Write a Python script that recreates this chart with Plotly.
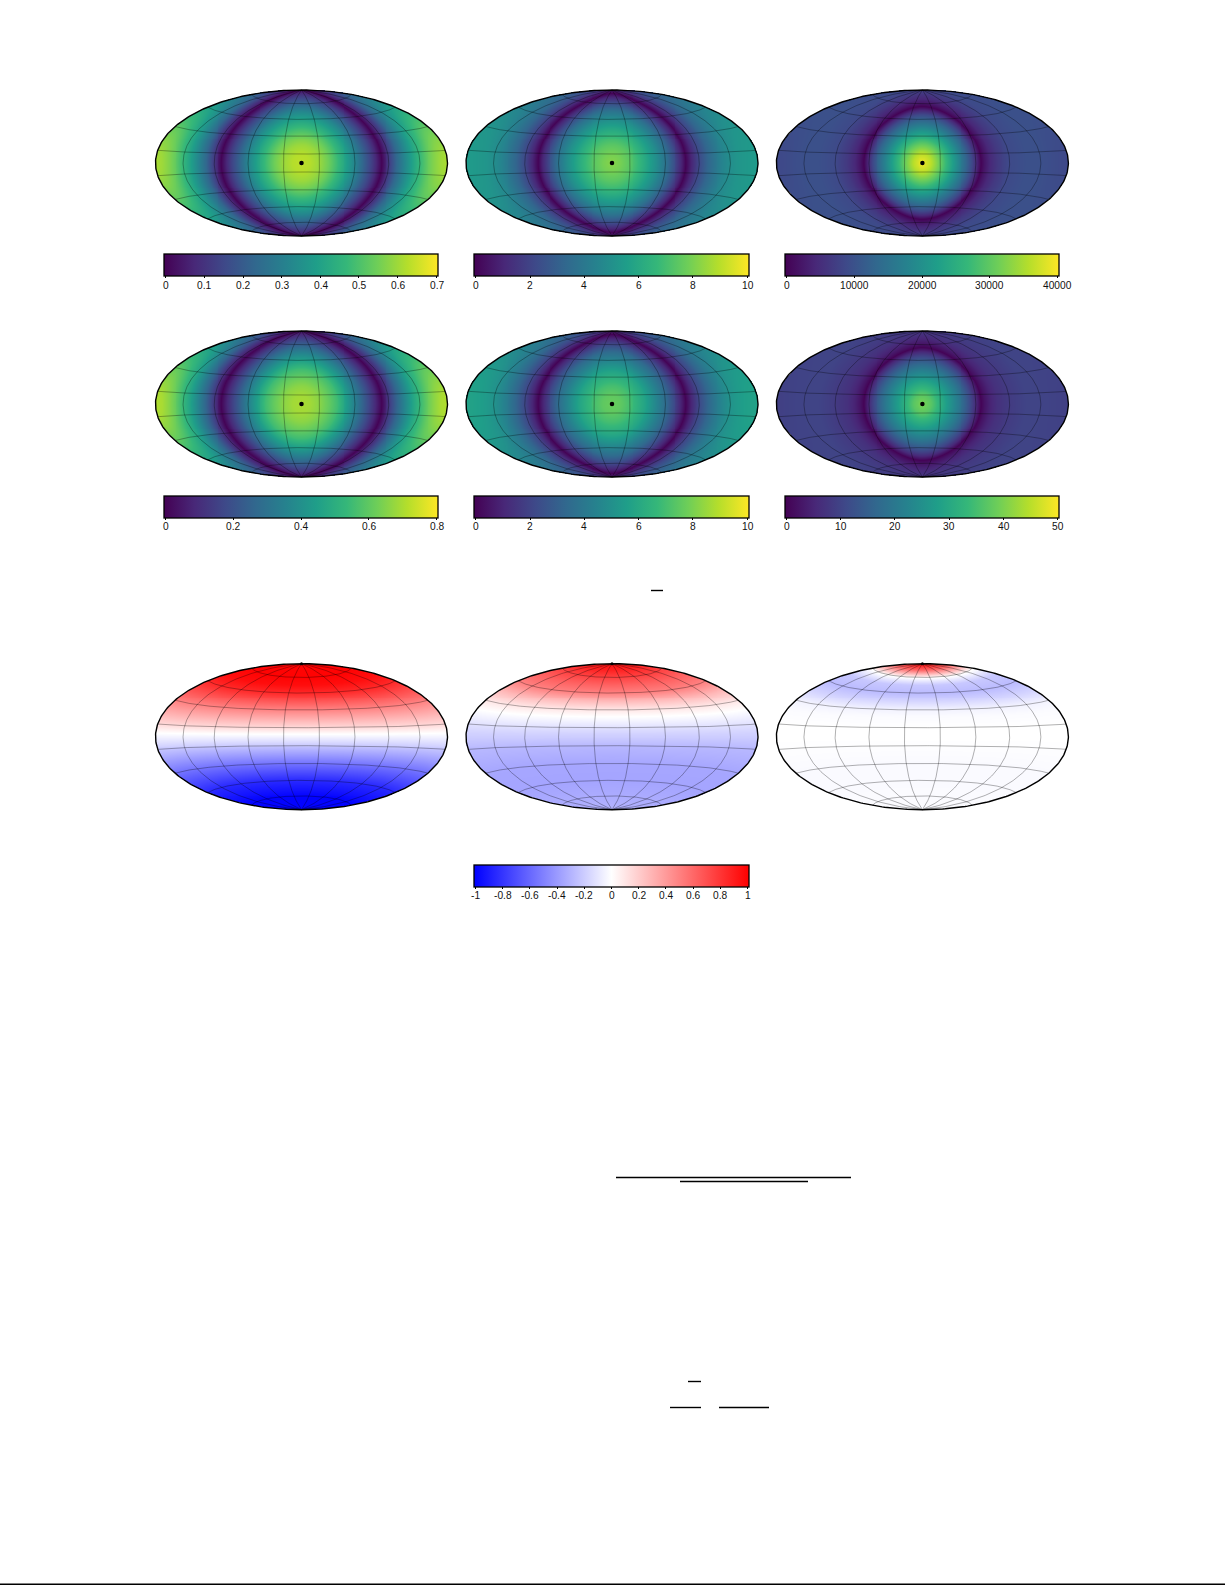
import numpy as np
import plotly.graph_objects as go

W, H = 1225, 1585

# ---- values ----
# angular distance from map centre (deg) and field value there
psi_a = [0, 10, 20, 30, 40, 50, 60, 70, 80, 91, 100, 110, 120, 130, 140, 150, 160, 170, 180]
map1 = [0.635, 0.625, 0.595, 0.545, 0.475, 0.40, 0.32, 0.22, 0.125, 0.0, 0.11, 0.23, 0.32, 0.40, 0.47, 0.53, 0.57, 0.60, 0.615]
map4 = [0.70, 0.69, 0.66, 0.61, 0.55, 0.45, 0.35, 0.24, 0.13, 0.0, 0.12, 0.25, 0.36, 0.46, 0.54, 0.61, 0.66, 0.70, 0.71]
psi_b = [0, 10, 20, 30, 37, 50, 60, 70, 80, 84, 90, 100, 110, 120, 130, 140, 150, 160, 170, 180]
map2 = [8.2, 7.9, 7.4, 6.7, 6.1, 4.9, 3.8, 2.4, 0.8, 0.0, 0.9, 2.2, 3.2, 3.9, 4.5, 4.9, 5.2, 5.3, 5.4, 5.4]
map5 = [7.7, 7.5, 7.0, 6.3, 5.8, 4.5, 3.5, 2.2, 0.7, 0.0, 0.9, 2.2, 3.2, 4.0, 4.6, 5.1, 5.4, 5.6, 5.7, 5.7]
psi_c = [0, 10, 20, 30, 40, 50, 56, 60, 64, 66, 70, 76, 85, 100, 120, 140, 160, 180]
map3 = [39500, 36000, 30500, 24500, 18500, 12500, 8500, 5200, 1800, 0, 2000, 4200, 6500, 8800, 9700, 9700, 9100, 8500]
map6 = [40, 37, 31.5, 26, 20.5, 14, 9.5, 6, 2.2, 0, 2.2, 4.5, 6.8, 8.5, 10, 10, 9.7, 9.2]

# latitude (deg) and field value there
lat_p = [-90, -70, -50, -30, -10, 0, 3, 10, 22, 30, 40, 50, 60, 70, 80, 90]
map7 = [-1.0, -1.0, -0.85, -0.55, -0.22, -0.05, 0.0, 0.15, 0.36, 0.5, 0.68, 0.85, 0.96, 1.0, 1.0, 1.0]
map8 = [-0.3, -0.33, -0.36, -0.35, -0.28, -0.2, -0.18, -0.12, 0.0, 0.1, 0.28, 0.5, 0.62, 0.75, 0.88, 0.95]
map9 = [-0.015, -0.015, -0.02, -0.02, -0.005, 0.0, 0.0, 0.0, -0.015, -0.05, -0.17, -0.27, -0.22, 0.02, 0.6, 1.0]

ticks_a = [0, 0.1, 0.2, 0.3, 0.4, 0.5, 0.6, 0.7]
ticks_b = [0, 2, 4, 6, 8, 10]
ticks_c = [0, 10000, 20000, 30000, 40000]
ticks_d = [0, 0.2, 0.4, 0.6, 0.8]
ticks_e = [0, 10, 20, 30, 40, 50]
ticks_f = [-1, -0.8, -0.6, -0.4, -0.2, 0, 0.2, 0.4, 0.6, 0.8, 1]

grid_lats = [-70, -50, -30, -10, 10, 30, 50, 70]
grid_lons = [-140, -100, -60, -20, 20, 60, 100, 140]

# ---- layout (pixels) ----
centres_x = [301.5, 612.0, 922.4]
centres_y = [163.0, 404.0, 736.7]
half_w, half_h = 146.0, 73.0
pad = 4.0
bars_x = [(164.0, 438.4), (474.0, 749.3), (785.0, 1059.4)]
bars_top = [254.0, 495.6, 864.7]
bar_thick = 22
tick_inset = 1.7
label_gap = 9.0
fraction_bars = [(651, 663, 590.5), (616, 851, 1177.5), (680, 808, 1181.5),
                 (688, 701, 1381.5), (670, 701, 1407.5), (719, 769, 1407.5)]

SQ2 = np.sqrt(2.0)


def hammer(lon_deg, lat_deg):
    lo = np.radians(np.asarray(lon_deg, float))
    la = np.radians(np.asarray(lat_deg, float))
    d = np.sqrt(1 + np.cos(la) * np.cos(lo / 2))
    return 2 * SQ2 * np.cos(la) * np.sin(lo / 2) / d, SQ2 * np.sin(la) / d


nx, ny = 300, 150
gx = np.linspace(-2 * SQ2, 2 * SQ2, nx)
gy = np.linspace(-SQ2, SQ2, ny)
X, Y = np.meshgrid(gx, gy)
inside = X**2 / 8 + Y**2 / 2 <= 1.0
Zz = np.sqrt(np.clip(1 - (X / 4) ** 2 - (Y / 2) ** 2, 0, None))
LON = 2 * np.arctan2(Zz * X, 2 * (2 * Zz**2 - 1))
LAT = np.arcsin(np.clip(Zz * Y, -1, 1))
PSI = np.degrees(np.arccos(np.clip(np.cos(LAT) * np.cos(LON), -1, 1)))
LATD = np.degrees(LAT)

samples = np.arange(-90, 90.01, 1.0)

VIR = "Viridis"
RWB = [[0, "#0000ff"], [0.5, "#ffffff"], [1, "#ff0000"]]

maps = [
    (0, 0, psi_a, map1, VIR, ticks_a, True),
    (1, 0, psi_b, map2, VIR, ticks_b, True),
    (2, 0, psi_c, map3, VIR, ticks_c, True),
    (0, 1, psi_a, map4, VIR, ticks_d, True),
    (1, 1, psi_b, map5, VIR, ticks_b, True),
    (2, 1, psi_c, map6, VIR, ticks_e, True),
    (0, 2, lat_p, map7, RWB, None, False),
    (1, 2, lat_p, map8, RWB, ticks_f, False),
    (2, 2, lat_p, map9, RWB, None, False),
]

fig = go.Figure()
layout = {}
annotations = []
for i, (col, row, key, vals, cs, ticks, radial) in enumerate(maps, start=1):
    cx, cy = centres_x[col], centres_y[row]
    xa, ya = ("x", "y") if i == 1 else (f"x{i}", f"y{i}")
    dom_x = [(cx - half_w - pad) / W, (cx + half_w + pad) / W]
    dom_y = [1 - (cy + half_h + pad) / H, 1 - (cy - half_h - pad) / H]
    rx = 2 * SQ2 * (half_w + pad) / half_w
    ry = SQ2 * (half_h + pad) / half_h
    layout["xaxis" if i == 1 else f"xaxis{i}"] = dict(domain=dom_x, range=[-rx, rx], visible=False, anchor=ya)
    layout["yaxis" if i == 1 else f"yaxis{i}"] = dict(domain=dom_y, range=[-ry, ry], visible=False, anchor=xa)

    field = np.interp(PSI if radial else LATD, key, vals)
    z = np.where(inside, field, np.nan)

    if radial:
        span = ticks[-1] - ticks[0]
        eps = span * tick_inset / 271
        zmin, zmax = ticks[0] - eps, ticks[-1] + eps
    else:
        zmin, zmax = -1.012, 1.012

    hm = dict(x=gx, y=gy, z=z, xaxis=xa, yaxis=ya, colorscale=cs, zmin=zmin, zmax=zmax,
              hoverinfo="skip", showscale=False)
    if ticks is not None:
        bx0, bx1 = bars_x[col]
        top = bars_top[row]
        hm["showscale"] = True
        hm["colorbar"] = dict(
            orientation="h", x=bx0 / W, xanchor="left", y=1 - top / H, yanchor="top",
            lenmode="pixels", len=bx1 - bx0, thicknessmode="pixels", thickness=bar_thick,
            xpad=0, ypad=0, outlinecolor="black", outlinewidth=1.3, borderwidth=0,
            tickmode="array", tickvals=ticks, ticks="outside", showticklabels=False,
            ticklen=2, tickwidth=0.7, tickcolor="black",
        )
        for t in ticks:
            fx = (t - zmin) / (zmax - zmin)
            annotations.append(dict(
                text=f"{t:g}", xref="paper", yref="paper", showarrow=False,
                x=(bx0 + fx * (bx1 - bx0)) / W, y=1 - (top + bar_thick + label_gap) / H,
                xanchor="center", yanchor="middle",
                font=dict(family="Liberation Sans", size=10.2, color="#111111"),
                borderpad=0,
            ))
    fig.add_trace(go.Heatmap(**hm))

    # graticule
    line = dict(color="rgba(0,0,0,0.62)", width=0.5)
    for la in grid_lats:
        lo = np.arange(-180, 180.01, 2.0)
        px, py = hammer(lo, np.full_like(lo, la))
        fig.add_trace(go.Scatter(x=px, y=py, mode="lines", line=line, xaxis=xa, yaxis=ya,
                                 hoverinfo="skip", showlegend=False))
    for lo0 in grid_lons:
        px, py = hammer(np.full_like(samples, lo0), samples)
        fig.add_trace(go.Scatter(x=px, y=py, mode="lines", line=line, xaxis=xa, yaxis=ya,
                                 hoverinfo="skip", showlegend=False))
    # outline
    lat_all = np.concatenate([samples, samples[::-1]])
    lon_all = np.concatenate([np.full_like(samples, 180.0), np.full_like(samples, -180.0)])
    px, py = hammer(lon_all, lat_all)
    fig.add_trace(go.Scatter(x=px, y=py, mode="lines", line=dict(color="black", width=1.4),
                             xaxis=xa, yaxis=ya, hoverinfo="skip", showlegend=False))
    # marker: centre dot on the top rows, north pole dot on the bottom row
    mx, my = ([0.0], [0.0]) if radial else ([0.0], [SQ2])
    fig.add_trace(go.Scatter(x=mx, y=my, mode="markers",
                             marker=dict(color="black", size=4.5 if radial else 3),
                             xaxis=xa, yaxis=ya, hoverinfo="skip", showlegend=False))

shapes = [dict(type="line", xref="paper", yref="paper", x0=a / W, x1=b / W,
               y0=1 - y / H, y1=1 - y / H, line=dict(color="black", width=1.4))
          for a, b, y in fraction_bars]
shapes.append(dict(type="line", xref="paper", yref="paper", x0=0, x1=1,
                   y0=1 - 1584.3 / H, y1=1 - 1584.3 / H, line=dict(color="black", width=1.5)))

fig.update_layout(width=W, height=H, margin=dict(l=0, r=0, t=0, b=0), autosize=False,
                  paper_bgcolor="white", plot_bgcolor="rgba(0,0,0,0)",
                  showlegend=False, shapes=shapes, annotations=annotations, **layout)

fig.write_html("out.html", config=dict(displayModeBar=False),
               post_script="document.body.style.margin='0';document.documentElement.style.overflow='hidden';")
